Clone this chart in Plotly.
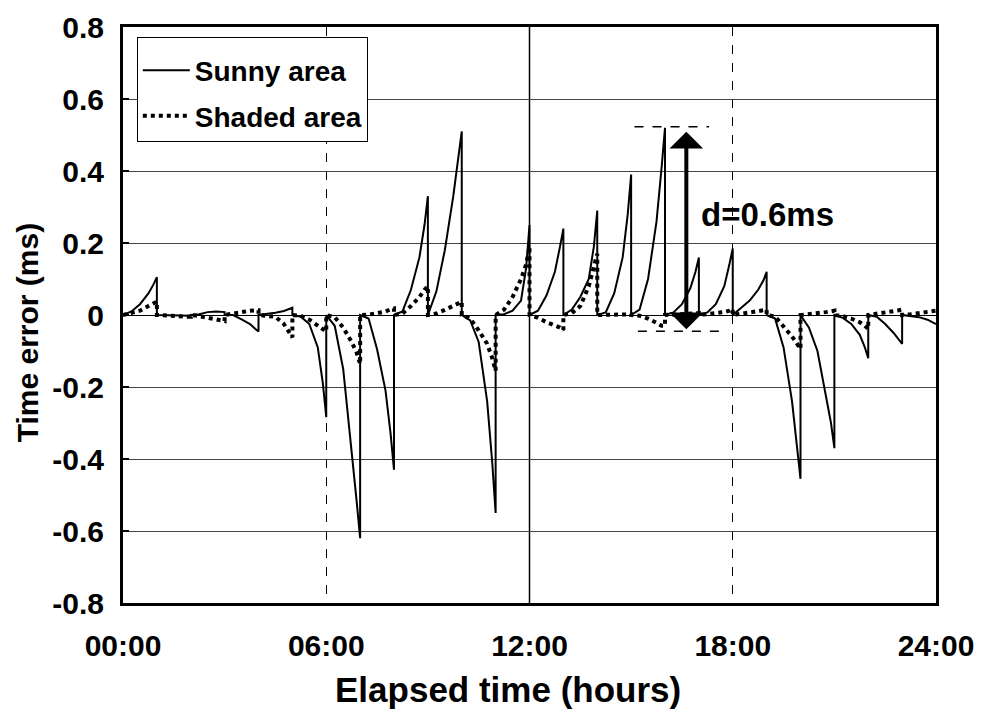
import plotly.graph_objects as go

# ---------------- data ----------------
hours = list(range(24))
sample_fracs = [0.25, 0.5, 0.75, 0.9, 1.0]

# Sunny area: error values inside each hourly segment at the sample fractions
sunny_q25 = [0.01, 0.0, 0.002, 0.0, 0.002, -0.005, -0.03, -0.01, 0.01, 0.065, -0.015, 0.002,
             0.012, 0.015, 0.007, 0.015, 0.007, 0.007, 0.02, -0.01, -0.035, -0.008, -0.005, -0.002]
sunny_q50 = [0.03, -0.001, 0.008, -0.012, 0.006, -0.025, -0.15, -0.095, 0.07, 0.18, -0.075, 0.012,
             0.054, 0.05, 0.06, 0.1, 0.03, 0.03, 0.04, -0.09, -0.1, -0.025, -0.025, -0.006]
sunny_q75 = [0.06, -0.002, 0.01, -0.025, 0.011, -0.09, -0.37, -0.21, 0.16, 0.33, -0.24, 0.04,
             0.12, 0.1, 0.16, 0.26, 0.075, 0.08, 0.07, -0.24, -0.22, -0.055, -0.05, -0.013]
sunny_q90 = [0.085, -0.002, 0.01, -0.038, 0.016, -0.19, -0.52, -0.33, 0.25, 0.44, -0.41, 0.13,
             0.19, 0.19, 0.28, 0.41, 0.12, 0.14, 0.095, -0.37, -0.3, -0.09, -0.068, -0.02]
sunny_end = [0.105, -0.002, 0.008, -0.046, 0.02, -0.284, -0.62, -0.43, 0.33, 0.51, -0.55, 0.25,
             0.24, 0.29, 0.39, 0.52, 0.16, 0.185, 0.12, -0.455, -0.37, -0.12, -0.08, -0.025]

# Shaded area
shaded_q25 = [0.005, -0.002, -0.003, 0.003, -0.002, -0.002, -0.006, 0.001, 0.004, 0.004, -0.01, 0.015,
              -0.008, 0.005, 0.0, -0.002, 0.001, 0.002, 0.003, -0.004, 0.002, -0.003, 0.003, 0.002]
shaded_q50 = [0.012, -0.004, -0.008, 0.008, -0.005, -0.013, -0.035, 0.005, 0.025, 0.014, -0.043, 0.05,
              -0.02, 0.025, 0.001, -0.01, 0.002, 0.005, 0.006, -0.03, 0.005, -0.01, 0.006, 0.005]
shaded_q75 = [0.025, -0.005, -0.013, 0.012, -0.025, -0.03, -0.075, 0.01, 0.05, 0.024, -0.08, 0.1,
              -0.028, 0.08, 0.001, -0.022, 0.003, 0.008, 0.01, -0.06, 0.008, -0.02, 0.01, 0.008]
shaded_q90 = [0.033, -0.005, -0.016, 0.013, -0.045, -0.04, -0.105, 0.016, 0.07, 0.033, -0.12, 0.14,
              -0.035, 0.14, 0.002, -0.03, 0.004, 0.012, 0.013, -0.08, 0.01, -0.03, 0.013, 0.01]
shaded_end = [0.037, -0.005, -0.017, 0.013, -0.062, -0.046, -0.136, 0.018, 0.08, 0.037, -0.155, 0.19,
              -0.042, 0.17, 0.002, -0.03, 0.005, 0.017, 0.015, -0.094, 0.012, -0.039, 0.015, 0.012]

x_tick_vals = [0, 6, 12, 18, 24]
x_tick_text = ["00:00", "06:00", "12:00", "18:00", "24:00"]
y_tick_vals = [-0.8, -0.6, -0.4, -0.2, 0, 0.2, 0.4, 0.6, 0.8]
y_tick_text = ["-0.8", "-0.6", "-0.4", "-0.2", "0", "0.2", "0.4", "0.6", "0.8"]

# annotation values
d_top = 0.523
d_bottom = -0.045
d_arrow_top = 0.509
d_arrow_bottom = -0.044
d_arrow_x = 16.63
d_label = "d=0.6ms"


def build(q25, q50, q75, q90, end):
    xs, ys = [], []
    for h in hours:
        vals = [q25[h], q50[h], q75[h], q90[h], end[h]]
        xs.append(h)
        ys.append(0.0)
        for f, v in zip(sample_fracs, vals):
            xs.append(h + f)
            ys.append(v)
    return xs, ys


sx, sy = build(sunny_q25, sunny_q50, sunny_q75, sunny_q90, sunny_end)
dx, dy = build(shaded_q25, shaded_q50, shaded_q75, shaded_q90, shaded_end)

FONT = "Liberation Sans, Arial, sans-serif"

fig = go.Figure()
fig.add_trace(go.Scatter(x=sx, y=sy, mode="lines", name="Sunny area", legendgroup="a",
                         line=dict(color="black", width=2)))
fig.add_trace(go.Scatter(x=dx, y=dy, mode="lines", name="Shaded area", legendgroup="b",
                         line=dict(color="black", width=4, dash="dot")))

fig.update_layout(
    template="none",
    width=975, height=702,
    margin=dict(l=115, r=47, t=19, b=107),
    paper_bgcolor="white", plot_bgcolor="white",
    font=dict(family=FONT, size=30, color="black", weight="bold"),
    showlegend=True,
    legend=dict(x=0.017, y=0.983, xanchor="left", yanchor="top",
                bgcolor="white", bordercolor="black", borderwidth=1,
                font=dict(size=28, family=FONT, color="black", weight="bold"),
                itemwidth=47, traceorder="grouped", tracegroupgap=6,
                title=dict(text=" ", font=dict(size=6))),
)

fig.update_xaxes(
    range=[0, 24], tickvals=x_tick_vals, ticktext=x_tick_text, automargin=False,
    showgrid=True, gridcolor="black", gridwidth=1, griddash="dash",
    zeroline=False, showline=True, linecolor="black", linewidth=3, mirror=True,
    ticks="", ticklabelstandoff=14,
    tickfont=dict(size=30, family=FONT, weight="bold"),
)
fig.update_yaxes(
    range=[-0.8, 0.8], tickvals=y_tick_vals, ticktext=y_tick_text, automargin=False,
    showgrid=True, gridcolor="#444444", gridwidth=1,
    zeroline=True, zerolinecolor="black", zerolinewidth=1,
    showline=True, linecolor="black", linewidth=3, mirror=True,
    ticks="inside", ticklen=6, tickwidth=2, tickcolor="black",
    ticklabelstandoff=10,
    tickfont=dict(size=30, family=FONT, weight="bold"),
)

# solid vertical line at noon
fig.add_vline(x=x_tick_vals[2], line=dict(color="black", width=1.5), layer="below")

# axis titles as annotations
fig.add_annotation(text="Elapsed time (hours)", xref="paper", yref="paper",
                   x=0.4735, y=-0.151, xanchor="center", yanchor="middle",
                   showarrow=False, font=dict(size=35, family=FONT, weight="bold"))
fig.add_annotation(text="Time error (ms)", xref="paper", yref="paper",
                   x=-0.118, y=0.47, xanchor="center", yanchor="middle", textangle=-90,
                   showarrow=False, font=dict(size=30, family=FONT, weight="bold"))

# d = 0.6 ms marker
fig.add_shape(type="line", x0=15.1, x1=17.3, y0=d_top, y1=d_top,
              line=dict(color="black", width=1.5, dash="dash"))
fig.add_shape(type="line", x0=15.2, x1=17.6, y0=d_bottom, y1=d_bottom,
              line=dict(color="black", width=1.5, dash="dash"))
fig.add_annotation(x=d_arrow_x, y=d_arrow_top, ax=d_arrow_x, ay=d_arrow_bottom,
                   xref="x", yref="y", axref="x", ayref="y", text="",
                   showarrow=True, arrowhead=1, startarrowhead=1, arrowside="end+start",
                   arrowwidth=4, arrowsize=1.4, startarrowsize=1.4, arrowcolor="black")
fig.add_annotation(text=d_label, x=17.0, y=0.28, xref="x", yref="y",
                   xanchor="left", yanchor="middle", showarrow=False,
                   font=dict(size=33, family=FONT, weight="bold"))

fig.write_html("out.html")
